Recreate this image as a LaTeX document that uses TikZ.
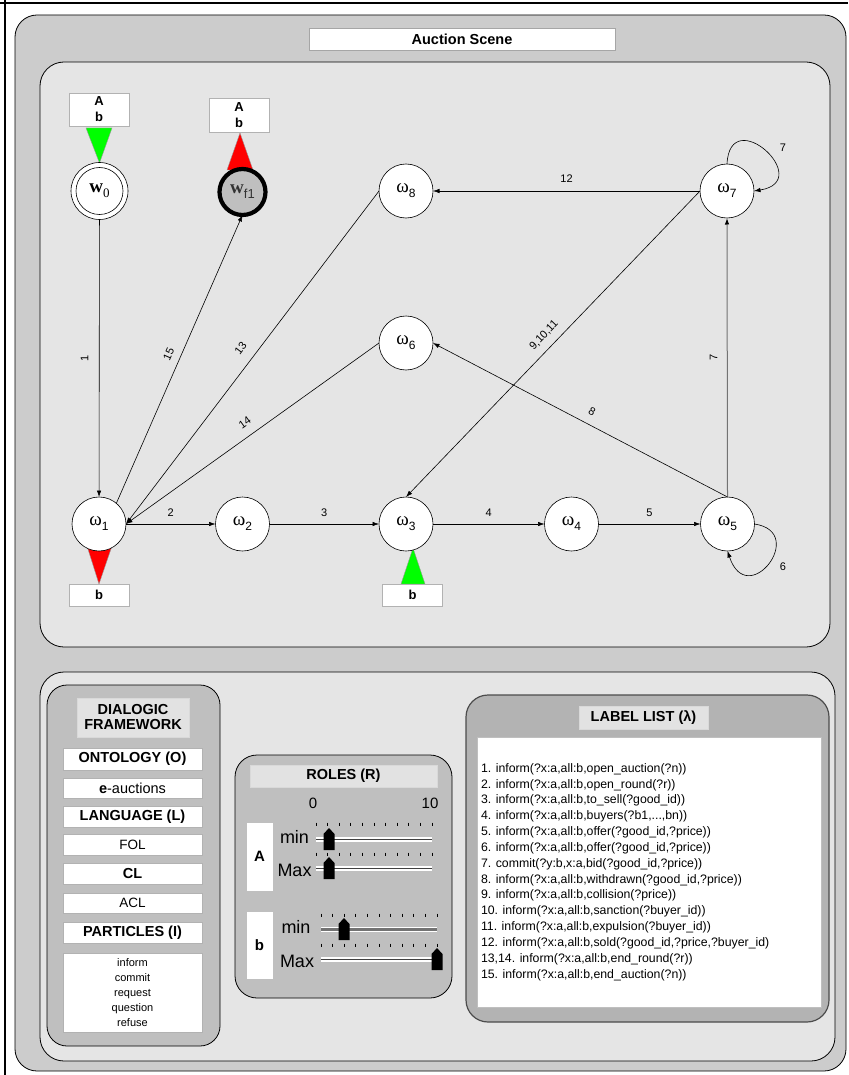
\documentclass[tikz,border=0pt]{standalone}
\usepackage{fontspec}
\setmainfont{Liberation Sans}
\newfontfamily\serifgr{Liberation Serif}
\usetikzlibrary{arrows.meta,calc}
\definecolor{outergray}{HTML}{CCCCCC}
\definecolor{panelgray}{HTML}{E5E5E5}
\definecolor{subgray}{HTML}{BFBFBF}
\definecolor{listgray}{HTML}{B3B3B3}
\definecolor{hdrgray}{HTML}{E2E2E2}
\definecolor{mkgreen}{HTML}{00FF00}
\definecolor{mkred}{HTML}{FF0000}
\newcommand\omlab[1]{{\serifgr\fontsize{19}{19}\selectfont ω}\raisebox{-5pt}{\fontsize{12}{12}\selectfont #1}}
\newcommand\sliderthumb[2]{\fill[black] ({#1-5.5},{#2+11}) -- ({#1-5.5},{#2-5}) -- (#1,{#2-11}) -- ({#1+5.5},{#2-5}) -- ({#1+5.5},{#2+11}) -- cycle;}
\newcommand\slidertrack[4]{\fill[white] (#1,{#3-2.5}) rectangle (#2,{#3+2.5}); \draw[#4] (#1,#3) -- (#2,#3);}
\newcommand\sliderticks[2]{\foreach \i in {0,...,10} {\draw[line width=0.9pt] ({#1+11.6*\i},{#2-1.5}) -- ({#1+11.6*\i},{#2+1.5});}}
\begin{document}
\begin{tikzpicture}[x=1pt,y=-1pt,
 every node/.style={inner sep=0pt, outer sep=0pt},
 state/.style={circle, draw, fill=white, minimum size=54pt, line width=0.6pt},
 conn/.style={-{Latex[length=6.5pt,width=4.5pt]}, line width=0.6pt},
 elab/.style={font=\fontsize{11}{11}\selectfont},
 hdr/.style={font=\bfseries\fontsize{14.5}{15}\selectfont},
 panel/.style={draw, line width=0.8pt, rounded corners=24pt},
 markbox/.style={draw=gray!60, fill=white, line width=0.6pt, minimum width=60pt, align=center, font=\bfseries\fontsize{13}{16}\selectfont},
 rowbox/.style={draw=gray!60, fill=white, line width=0.7pt, minimum width=139pt},
 hdrbox/.style={fill=hdrgray, draw=gray!30, line width=0.5pt},
 listline/.style={anchor=west, font=\fontsize{12.3}{12.3}\selectfont},
 marker/.style={draw=black!40, line width=0.4pt},
]
\useasboundingbox (0,0) rectangle (848,1075);
\fill[white] (0,0) rectangle (848,1075);
\draw[line width=1.5pt] (0,3) -- (848,3);
\draw[line width=2pt] (5,0) -- (5,1075);

% outer frame and panels
\draw[panel, fill=outergray, rounded corners=22pt] (15,15) rectangle (846,1071);
\node[draw=gray!70, fill=white, line width=0.6pt, minimum width=306pt, minimum height=22pt, hdr] (title) at (462,39) {Auction Scene};
\draw[panel, fill=panelgray] (40,62) rectangle (830,647);
\draw[panel, fill=panelgray] (40,672) rectangle (835,1061);

% role markers (triangles)
\filldraw[marker, fill=mkgreen] (86,128) -- (112,128) -- (99.5,163) -- cycle;
\filldraw[marker, fill=mkred] (227,170) -- (253,170) -- (240,133) -- cycle;
\filldraw[marker, fill=mkred] (87,546) -- (112,546) -- (99,584) -- cycle;
\filldraw[marker, fill=mkgreen] (401,584) -- (425,584) -- (413,548) -- cycle;

% states
\node[state, minimum size=57pt] (w0) at (99.5,191) {{\serifgr\bfseries\fontsize{19}{19}\selectfont w}\raisebox{-5pt}{\serifgr\fontsize{13}{13}\selectfont 0}};
\draw[line width=0.6pt] (w0.center) circle[radius=23.5pt];
\node[state, minimum size=46pt, line width=4.2pt, fill=subgray, text=black!80] (wf1) at (242.5,192) {{\serifgr\bfseries\fontsize{19}{19}\selectfont w}\raisebox{-5pt}{\fontsize{13}{13}\selectfont f1}};
\node[state] (w1) at (99,524) {\omlab{1}};
\node[state] (w2) at (242.5,524) {\omlab{2}};
\node[state] (w3) at (406,524) {\omlab{3}};
\node[state] (w4) at (571.5,524) {\omlab{4}};
\node[state] (w5) at (727.5,524) {\omlab{5}};
\node[state] (w6) at (406,343) {\omlab{6}};
\node[state] (w7) at (727,191) {\omlab{7}};
\node[state] (w8) at (406,191) {\omlab{8}};

% role boxes
\node[markbox, minimum height=33pt] (m0) at (99,109.5) {A\\b};
\node[markbox, minimum height=34pt] (mf) at (239,115) {A\\b};
\node[markbox, minimum height=22pt] (m1) at (99,595) {b};
\node[markbox, minimum height=22pt] (m3) at (412.5,595) {b};

% connectors
\draw[conn] (w0) -- (w1) node[pos=0.5, rotate=90, anchor=south, inner sep=11pt, elab] (l1) {1};
\draw[conn] (w1) -- (w2) node[midway, above=7.5pt, elab] (l2) {2};
\draw[conn] (w2) -- (w3) node[midway, above=7.5pt, elab] (l3) {3};
\draw[conn] (w3) -- (w4) node[midway, above=7.5pt, elab] (l4) {4};
\draw[conn] (w4) -- (w5) node[midway, above=7.5pt, elab] (l5) {5};
\draw[conn] (w5.east) .. controls +(54,8) and +(20,60) .. (w5.south);
\node[elab] (l6) at (783,567) {6};
\draw[-{Latex[length=6.5pt,width=4.5pt,color=black]}, draw=black!55, line width=1pt] (w5.north) -- (w7.south) node[pos=0.5, rotate=90, anchor=south, inner sep=10pt, elab, text=black] (l7) {7};
\draw[conn] (w7.north) .. controls +(3,-62) and +(62,-10) .. (w7.east);
\node[elab] (l7b) at (783,148) {7};
\draw[conn] (w7) -- (w8) node[midway, above=8pt, elab] (l12) {12};
\draw[conn] (w7.west) -- (w3.north) node[pos=0.5, sloped, above=8pt, elab] (l9) {9,10,11};
\draw[conn] (w5.north) -- (w6.east) node[pos=0.48, sloped, above=9pt, elab] (l8) {8};
\draw[conn] (w8.west) -- (w1.east) node[pos=0.5, sloped, above=11pt, elab] (l13) {13};
\draw[conn] (w6.west) -- (w1.east) node[pos=0.5, sloped, above=9.5pt, elab] (l14) {14};
\draw[conn] (w1.50) -- (wf1.south) node[pos=0.5, sloped, above=8pt, elab] (l15) {15};

% dialogic framework
\draw[panel, fill=subgray, rounded corners=20pt] (47,685) rectangle (220,1046);
\node[hdrbox, minimum width=112pt, minimum height=39pt, align=center, hdr] (dftitle) at (133,717.5) {DIALOGIC\\FRAMEWORK};
\node[rowbox, minimum height=22pt, hdr] (ont) at (132.5,759) {ONTOLOGY (O)};
\node[rowbox, minimum height=20pt, font=\fontsize{14.5}{15}\selectfont] (eauc) at (132.5,788) {\textbf{e}-auctions};
\node[rowbox, minimum height=21pt, hdr] (lang) at (132.5,816.5) {LANGUAGE (L)};
\node[rowbox, minimum height=21pt, font=\fontsize{13.5}{14}\selectfont] (fol) at (132.5,844.5) {FOL};
\node[rowbox, minimum height=21pt, hdr] (cl) at (132.5,873.5) {CL};
\node[rowbox, minimum height=20pt, font=\fontsize{13.5}{14}\selectfont] (acl) at (132.5,903) {ACL};
\node[rowbox, minimum height=21pt, hdr] (part) at (132.5,932.5) {PARTICLES (I)};
\node[rowbox, minimum height=79pt, align=center, font=\fontsize{11}{15.2}\selectfont] (plist) at (132.5,992.5) {inform\\commit\\request\\question\\refuse};

% roles
\draw[panel, fill=subgray, rounded corners=22pt] (235,755) rectangle (452,998);
\node[hdrbox, minimum width=187pt, minimum height=22pt, hdr] (rtitle) at (343.5,776) {ROLES (R)};
\node[font=\fontsize{15}{15}\selectfont] (r0) at (313,803) {0};
\node[font=\fontsize{15}{15}\selectfont] (r10) at (430,803) {10};
\node[fill=white, draw=gray!50, minimum width=27pt, minimum height=69pt, font=\bfseries\fontsize{15}{15}\selectfont] (ra) at (259.5,856.5) {A};
\node[fill=white, draw=gray!50, minimum width=27pt, minimum height=68pt, font=\bfseries\fontsize{15}{15}\selectfont] (rb) at (259.5,945) {b};
\node[font=\fontsize{18}{18}\selectfont] (amin) at (294.5,837) {min};
\node[font=\fontsize{18}{18}\selectfont] (amax) at (294.5,870) {Max};
\node[font=\fontsize{18}{18}\selectfont] (bmin) at (296,927) {min};
\node[font=\fontsize{18}{18}\selectfont] (bmax) at (297,961) {Max};
\sliderticks{316}{824}
\slidertrack{316}{432}{839}{black!75, line width=1pt}
\sliderthumb{329}{839}
\sliderticks{316}{854}
\slidertrack{316}{432}{868}{black!75, line width=1pt}
\sliderthumb{329}{868}
\sliderticks{321}{915}
\slidertrack{321}{437}{929}{black!55, line width=3pt}
\sliderthumb{344}{929}
\sliderticks{321}{945}
\slidertrack{321}{437}{959}{black!75, line width=1pt}
\sliderthumb{437}{959}

% label list
\draw[panel, fill=listgray, draw=black!70, line width=1.2pt, rounded corners=22pt] (466,695) rectangle (829,1022);
\node[hdrbox, minimum width=129pt, minimum height=23pt, hdr] (ltitle) at (643.5,717.5) {LABEL LIST (λ)};
\node[fill=white, draw=gray!50, minimum width=344pt, minimum height=270pt] (lbox) at (649,872) {};
\node[listline] (ll1) at (481,769) {1. inform(?x:a,all:b,open\_auction(?n))};
\node[listline] (ll2) at (481,784.85) {2. inform(?x:a,all:b,open\_round(?r))};
\node[listline] (ll3) at (481,800.7) {3. inform(?x:a,all:b,to\_sell(?good\_id))};
\node[listline] (ll4) at (481,816.55) {4. inform(?x:a,all:b,buyers(?b1,...,bn))};
\node[listline] (ll5) at (481,832.4) {5. inform(?x:a,all:b,offer(?good\_id,?price))};
\node[listline] (ll6) at (481,848.25) {6. inform(?x:a,all:b,offer(?good\_id,?price))};
\node[listline] (ll7) at (481,864.1) {7. commit(?y:b,x:a,bid(?good\_id,?price))};
\node[listline] (ll8) at (481,879.95) {8. inform(?x:a,all:b,withdrawn(?good\_id,?price))};
\node[listline] (ll9) at (481,895.8) {9. inform(?x:a,all:b,collision(?price))};
\node[listline] (ll10) at (481,911.65) {10. inform(?x:a,all:b,sanction(?buyer\_id))};
\node[listline] (ll11) at (481,927.5) {11. inform(?x:a,all:b,expulsion(?buyer\_id))};
\node[listline] (ll12) at (481,943.35) {12. inform(?x:a,all:b,sold(?good\_id,?price,?buyer\_id)};
\node[listline] (ll13) at (481,959.2) {13,14. inform(?x:a,all:b,end\_round(?r))};
\node[listline] (ll14) at (481,975.05) {15. inform(?x:a,all:b,end\_auction(?n))};
\end{tikzpicture}
\end{document}
